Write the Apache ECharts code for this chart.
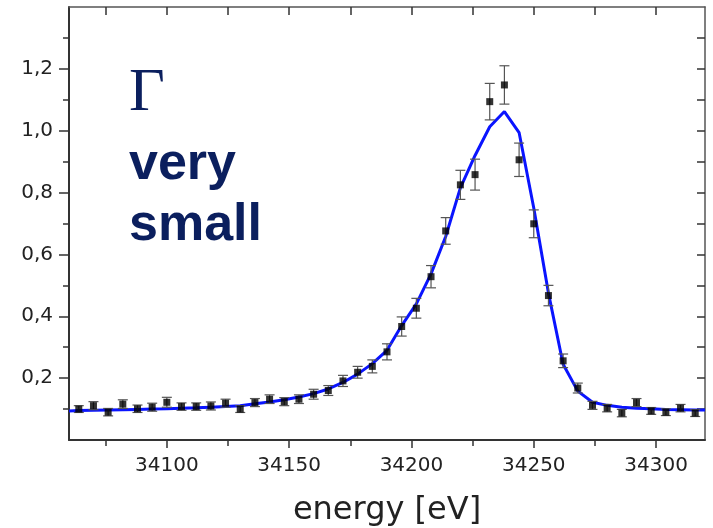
<!DOCTYPE html>
<html>
<head>
<meta charset="utf-8">
<script src="https://cdn.jsdelivr.net/npm/echarts@6/dist/echarts.min.js"></script>
<style>
html,body{margin:0;padding:0;background:#fff;}
#chart{width:713px;height:528px;}
</style>
</head>
<body>
<div id="chart"></div>
<script>
// ---- data ----
const energies = [34064,34070,34076,34082,34088,34094,34100,34106,34112,34118,34124,34130,34136,34142,34148,34154,34160,34166,34172,34178,34184,34190,34196,34202,34208,34214,34220,34226,34232,34238,34244,34250,34256,34262,34268,34274,34280,34286,34292,34298,34304,34310,34316];
const intensity = [0.100,0.111,0.090,0.116,0.101,0.106,0.122,0.108,0.108,0.110,0.119,0.100,0.121,0.132,0.124,0.132,0.148,0.160,0.191,0.219,0.238,0.285,0.367,0.426,0.528,0.676,0.825,0.858,1.094,1.148,0.906,0.699,0.467,0.256,0.168,0.112,0.103,0.087,0.121,0.094,0.090,0.103,0.087];
const errors = [0.011,0.013,0.012,0.014,0.012,0.013,0.016,0.012,0.012,0.013,0.013,0.011,0.013,0.014,0.013,0.014,0.016,0.016,0.018,0.019,0.021,0.026,0.031,0.032,0.036,0.043,0.047,0.050,0.059,0.062,0.054,0.045,0.033,0.022,0.016,0.013,0.012,0.012,0.013,0.011,0.011,0.012,0.011];
const fitEnergies = [34060,34064,34070,34076,34082,34088,34094,34100,34106,34112,34118,34124,34130,34136,34142,34148,34154,34160,34166,34172,34178,34184,34190,34196,34202,34208,34214,34220,34226,34232,34238,34244,34250,34256,34262,34268,34274,34280,34286,34292,34298,34304,34310,34316,34320];
const fitValues = [0.094,0.095,0.096,0.097,0.098,0.099,0.100,0.101,0.103,0.104,0.106,0.108,0.111,0.117,0.123,0.130,0.139,0.150,0.165,0.186,0.213,0.247,0.290,0.370,0.440,0.537,0.658,0.815,0.920,1.013,1.062,0.994,0.750,0.475,0.245,0.158,0.122,0.112,0.106,0.103,0.101,0.099,0.098,0.097,0.097];
const xMajorTicks = [34100,34150,34200,34250,34300];
const xMinorTicks = [34075,34125,34175,34225,34275];
const yMajorTicks = [0.2,0.4,0.6,0.8,1.0,1.2];
const yMinorTicks = [0.1,0.3,0.5,0.7,0.9,1.1,1.3];
const xTitle = 'energy [eV]';
const noteLines = ['Γ','very','small'];

// ---- chart ----
const X_MIN = 34060, X_MAX = 34320, Y_MIN = 0, Y_MAX = 1.4;
const axisColor = '#333';
const labelFont = 'DejaVu Sans';
const allX = xMajorTicks.concat(xMinorTicks).sort((a,b)=>a-b);
const allY = yMajorTicks.concat(yMinorTicks).sort((a,b)=>a-b);

const chart = echarts.init(document.getElementById('chart'), null, {renderer:'canvas'});

function baseX(extra){
  return Object.assign({type:'value', min:X_MIN, max:X_MAX, splitLine:{show:false}, axisLabel:{show:false}, axisTick:{show:false}, axisLine:{show:false}}, extra);
}
function baseY(extra){
  return Object.assign({type:'value', min:Y_MIN, max:Y_MAX, splitLine:{show:false}, axisLabel:{show:false}, axisTick:{show:false}, axisLine:{show:false}}, extra);
}

const option = {
  animation:false,
  backgroundColor:'#fff',
  grid:{left:69, right:8, top:7, bottom:88, containLabel:false, outerBoundsMode:'none'},
  xAxis:[
    baseX({position:'bottom',
      axisLine:{show:true, onZero:false, lineStyle:{color:axisColor, width:2}},
      axisTick:{show:true, inside:false, length:8, customValues:xMajorTicks, lineStyle:{color:axisColor, width:1.5}},
      axisLabel:{show:true, customValues:xMajorTicks, margin:16, color:'#222', fontFamily:labelFont, fontSize:20,
        formatter:v=>String(Math.round(v))},
      name:xTitle, nameLocation:'middle', nameGap:55,
      nameTextStyle:{color:'#222', fontFamily:labelFont, fontSize:32}
    }),
    baseX({position:'bottom',
      axisTick:{show:true, inside:false, length:6, customValues:xMinorTicks, lineStyle:{color:axisColor, width:1.5}}
    }),
    baseX({position:'top',
      axisLine:{show:true, onZero:false, lineStyle:{color:'#555', width:1.5}},
      axisTick:{show:true, inside:true, length:8, customValues:allX, lineStyle:{color:axisColor, width:1.5}}
    })
  ],
  yAxis:[
    baseY({position:'left',
      axisLine:{show:true, onZero:false, lineStyle:{color:axisColor, width:2}},
      axisTick:{show:true, inside:false, length:10, customValues:yMajorTicks, lineStyle:{color:axisColor, width:1.5}},
      axisLabel:{show:true, customValues:yMajorTicks, margin:16, color:'#222', fontFamily:labelFont, fontSize:20,
        formatter:v=>Number(v).toFixed(1).replace('.',',')}
    }),
    baseY({position:'left',
      axisTick:{show:true, inside:false, length:6, customValues:yMinorTicks, lineStyle:{color:axisColor, width:1.5}}
    }),
    baseY({position:'right',
      axisLine:{show:true, onZero:false, lineStyle:{color:'#555', width:1.5}},
      axisTick:{show:true, inside:true, length:8, customValues:allY, lineStyle:{color:axisColor, width:1.5}}
    })
  ],
  series:[
    {
      type:'line', name:'fit', xAxisIndex:0, yAxisIndex:0, z:2,
      data:fitEnergies.map((e,i)=>[e, fitValues[i]]),
      showSymbol:false, symbol:'none', smooth:false,
      lineStyle:{color:'#0a14ff', width:3}
    },
    {
      type:'custom', name:'err', xAxisIndex:0, yAxisIndex:0, z:3,
      data:energies.map((e,i)=>[e, intensity[i]-errors[i], intensity[i]+errors[i]]),
      encode:{x:0, y:[1,2]},
      renderItem:function(params, api){
        const x = api.value(0);
        const top = api.coord([x, api.value(2)]);
        const bot = api.coord([x, api.value(1)]);
        const w = 5;
        const st = {stroke:'#555', lineWidth:1.2};
        return {type:'group', children:[
          {type:'line', shape:{x1:top[0], y1:top[1], x2:bot[0], y2:bot[1]}, style:st},
          {type:'line', shape:{x1:top[0]-w, y1:top[1], x2:top[0]+w, y2:top[1]}, style:st},
          {type:'line', shape:{x1:bot[0]-w, y1:bot[1], x2:bot[0]+w, y2:bot[1]}, style:st}
        ]};
      }
    },
    {
      type:'scatter', name:'data', xAxisIndex:0, yAxisIndex:0, z:4,
      data:energies.map((e,i)=>[e, intensity[i]]),
      symbol:'rect', symbolSize:7,
      itemStyle:{color:'#000'}
    }
  ],
  graphic:[
    {type:'text', x:129, y:94, style:{text:noteLines[0], font:'normal 62px "Liberation Serif", "Times New Roman", serif', fill:'#0b1f5e', verticalAlign:'middle', align:'left'}},
    {type:'text', x:129, y:165, style:{text:noteLines[1], font:'bold 52px "Liberation Sans", Arial, sans-serif', fill:'#0b1f5e', verticalAlign:'middle', align:'left'}},
    {type:'text', x:129, y:226, style:{text:noteLines[2], font:'bold 52px "Liberation Sans", Arial, sans-serif', fill:'#0b1f5e', verticalAlign:'middle', align:'left'}}
  ]
};
chart.setOption(option);
</script>
</body>
</html>
